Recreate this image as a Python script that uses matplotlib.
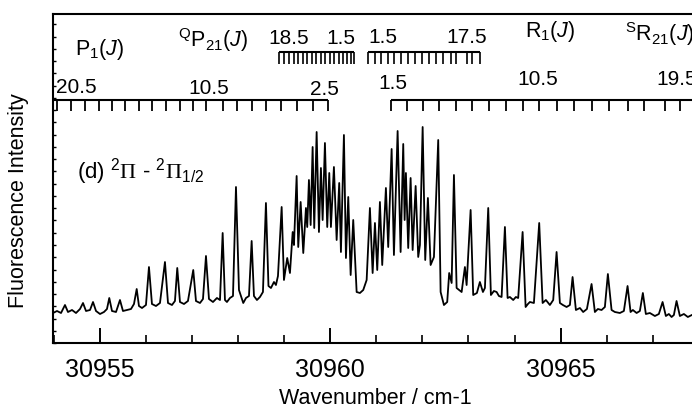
import matplotlib
matplotlib.use('Agg')
import matplotlib.pyplot as plt
from matplotlib.ticker import MultipleLocator

plt.rcParams['font.family'] = ['Liberation Sans', 'DejaVu Sans']
plt.rcParams['mathtext.fontset'] = 'custom'
plt.rcParams['mathtext.rm'] = 'Liberation Sans'
plt.rcParams['mathtext.it'] = 'Liberation Sans:italic'
plt.rcParams['mathtext.sf'] = 'Liberation Serif'

# ---------------- data ----------------
wavenumber = [
    30953.987, 30954.074, 30954.161, 30954.247, 30954.312, 30954.399, 30954.486, 30954.573, 30954.638, 30954.703,
    30954.790, 30954.855, 30954.920, 30955.007, 30955.093, 30955.158, 30955.208, 30955.267, 30955.354, 30955.440,
    30955.505, 30955.592, 30955.679, 30955.744, 30955.803, 30955.852, 30955.918, 30956.004, 30956.069, 30956.134,
    30956.221, 30956.308, 30956.416, 30956.482, 30956.568, 30956.633, 30956.683, 30956.742, 30956.829, 30956.915,
    30957.030, 30957.089, 30957.176, 30957.241, 30957.306, 30957.371, 30957.458, 30957.544, 30957.610, 30957.668,
    30957.718, 30957.761, 30957.826, 30957.892, 30957.957, 30958.022, 30958.065, 30958.115, 30958.174, 30958.239,
    30958.297, 30958.347, 30958.412, 30958.477, 30958.542, 30958.607, 30958.662, 30958.716, 30958.781, 30958.824,
    30958.868, 30958.948, 30958.998, 30959.069, 30959.128, 30959.187, 30959.215, 30959.273, 30959.308, 30959.360,
    30959.417, 30959.475, 30959.503, 30959.540, 30959.577, 30959.620, 30959.655, 30959.707, 30959.757, 30959.800,
    30959.837, 30959.887, 30959.937, 30959.981, 30960.017, 30960.082, 30960.141, 30960.197, 30960.234, 30960.299,
    30960.343, 30960.393, 30960.445, 30960.501, 30960.575, 30960.646, 30960.718, 30960.792, 30960.863, 30960.922,
    30960.972, 30961.022, 30961.080, 30961.130, 30961.210, 30961.260, 30961.334, 30961.384, 30961.464, 30961.529,
    30961.586, 30961.616, 30961.644, 30961.694, 30961.746, 30961.790, 30961.855, 30961.911, 30961.948, 30962.007,
    30962.063, 30962.121, 30962.180, 30962.252, 30962.345, 30962.397, 30962.469, 30962.540, 30962.583, 30962.636,
    30962.686, 30962.744, 30962.853, 30962.924, 30962.961, 30963.048, 30963.104, 30963.184, 30963.249, 30963.315,
    30963.358, 30963.430, 30963.488, 30963.553, 30963.612, 30963.662, 30963.720, 30963.792, 30963.850, 30963.900,
    30963.972, 30964.030, 30964.080, 30964.176, 30964.241, 30964.291, 30964.334, 30964.421, 30964.536, 30964.610,
    30964.681, 30964.768, 30964.840, 30964.913, 30964.985, 30965.050, 30965.130, 30965.202, 30965.260, 30965.332,
    30965.419, 30965.490, 30965.571, 30965.672, 30965.744, 30965.809, 30965.889, 30965.961, 30966.026, 30966.106,
    30966.178, 30966.286, 30966.373, 30966.453, 30966.518, 30966.568, 30966.649, 30966.720, 30966.785, 30966.850,
    30966.937, 30967.046, 30967.132, 30967.213, 30967.284, 30967.349, 30967.408, 30967.458, 30967.516, 30967.588,
    30967.675, 30967.761, 30967.848,
]
intensity = [
    30, 32, 30, 38, 31, 33, 30, 34, 40, 32,
    33, 41, 32, 29, 31, 34, 45, 32, 31, 43,
    32, 33, 34, 39, 54, 37, 35, 38, 76, 39,
    37, 40, 81, 40, 38, 42, 75, 41, 39, 42,
    73, 42, 40, 44, 87, 44, 41, 45, 43, 110,
    43, 41, 45, 47, 156, 53, 47, 40, 45, 47,
    102, 47, 43, 46, 51, 140, 57, 55, 61, 58,
    67, 136, 63, 85, 70, 111, 98, 167, 96, 141,
    90, 135, 116, 163, 118, 196, 115, 211, 111, 175,
    123, 200, 116, 170, 116, 176, 103, 160, 91, 208,
    85, 146, 68, 123, 51, 50, 53, 63, 135, 70,
    120, 73, 141, 78, 155, 96, 194, 88, 212, 91,
    199, 123, 170, 95, 165, 93, 157, 86, 98, 216,
    83, 145, 78, 86, 203, 51, 38, 41, 70, 60,
    168, 55, 51, 76, 58, 133, 48, 50, 61, 51,
    55, 135, 48, 52, 51, 47, 46, 116, 45, 46,
    43, 46, 45, 111, 36, 39, 41, 40, 120, 40,
    43, 38, 43, 91, 40, 38, 36, 38, 66, 33,
    35, 31, 34, 59, 31, 34, 33, 36, 69, 33,
    31, 30, 32, 57, 31, 33, 30, 32, 50, 29,
    30, 27, 29, 41, 27, 29, 26, 28, 42, 27,
    29, 26, 28,
]

# rotational line positions (cm-1)
p1_lines = [30954.074, 30954.388, 30954.675, 30954.978, 30955.273, 30955.549, 30955.857,
            30956.141, 30956.438, 30956.735, 30957.020, 30957.317, 30957.679, 30957.983,
            30958.299, 30958.614, 30958.939, 30959.275, 30959.618, 30959.944]          # J = 21.5 ... 2.5
r1_lines = [30961.312, 30961.659, 30962.007, 30962.360, 30962.722, 30963.082, 30963.445,
            30963.807, 30964.182, 30964.529, 30964.920, 30965.289, 30965.679, 30966.041,
            30966.460, 30966.807, 30967.262, 30967.588, 30967.957]                      # J = 1.5 ... 19.5
qp21_lines = [30958.889, 30958.998, 30959.106, 30959.215, 30959.312, 30959.410, 30959.508,
              30959.605, 30959.703, 30959.800, 30959.898, 30959.996, 30960.093, 30960.191,
              30960.289, 30960.375, 30960.451, 30960.527]                               # J = 18.5 ... 1.5
sr21_lines = [30960.831, 30960.972, 30961.113, 30961.254, 30961.395, 30961.536, 30961.688,
              30961.839, 30961.991, 30962.143, 30962.306, 30962.447, 30962.620, 30962.740,
              30962.967, 30963.076, 30963.249]                                          # J = 1.5 ... 17.5

p1_labels = ['20.5', '10.5', '2.5']
p1_label_pos = [30954.497, 30957.360, 30959.887]
r1_labels = ['1.5', '10.5', '19.5']
r1_label_pos = [30961.362, 30964.507, 30967.523]

x_range = (30953.987, 30967.99)

# ---------------- figure ----------------
fig = plt.figure(figsize=(6.92, 4.15), dpi=100)
ax = fig.add_axes([53 / 692, 72 / 415, 645.4 / 692, 329 / 415])

ax.plot(wavenumber, intensity, color='black', lw=1.3)
ax.set_xlim(*x_range)
ax.set_ylim(0, 329)

for s in ['left', 'bottom', 'top']:
    ax.spines[s].set_linewidth(1.5)
ax.spines['right'].set_visible(False)

ax.xaxis.set_major_locator(MultipleLocator(5))
ax.xaxis.set_minor_locator(MultipleLocator(1))
ax.xaxis.set_major_formatter(matplotlib.ticker.FormatStrFormatter('%d'))
ax.tick_params(axis='x', which='major', direction='in', length=10.8, width=1.4,
               labelsize=18, pad=11, top=False)
ax.tick_params(axis='x', which='minor', direction='in', length=5.8, width=1.2, top=False)
ax.yaxis.set_major_locator(MultipleLocator(12.25))
ax.tick_params(axis='y', which='major', direction='in', length=2.2, width=1.0,
               labelleft=False, right=False)

ax.set_xlabel('Wavenumber / cm-1', fontsize=15.5, labelpad=4)
fig.text(19 / 692, 1 - 201 / 415, 'Fluorescence Intensity', rotation=90,
         ha='center', va='center', fontsize=15.5)

tr = ax.get_xaxis_transform()

def frac(py):
    return (343 - py) / 329

# P1 / R1 ladders
yl, yt = frac(100), frac(111)
ax.plot([x_range[0], p1_lines[-1]], [yl, yl], transform=tr, color='black', lw=1.5,
        solid_capstyle='butt', clip_on=False)
ax.vlines(p1_lines, yt, yl, transform=tr, color='black', lw=1.3)
ax.plot([r1_lines[0], x_range[1]], [yl, yl], transform=tr, color='black', lw=1.5,
        solid_capstyle='butt', clip_on=False)
ax.vlines(r1_lines, yt, yl, transform=tr, color='black', lw=1.3)

# Q P21 / S R21 combs
yl2, yt2 = frac(52.5), frac(64)
ax.plot([qp21_lines[0], qp21_lines[-1]], [yl2, yl2], transform=tr, color='black', lw=1.5,
        solid_capstyle='butt')
ax.vlines(qp21_lines, yt2, yl2, transform=tr, color='black', lw=1.2)
ax.plot([sr21_lines[0], sr21_lines[-1]], [yl2, yl2], transform=tr, color='black', lw=1.5,
        solid_capstyle='butt')
ax.vlines(sr21_lines, yt2, yl2, transform=tr, color='black', lw=1.2)

fs = 15
for lab, x, py in zip(p1_labels, p1_label_pos, [93, 94, 95]):
    ax.text(x, frac(py), lab, transform=tr, ha='center', va='baseline', fontsize=fs)
for lab, x, py in zip(r1_labels, r1_label_pos, [89, 85, 85]):
    ax.text(x, frac(py), lab, transform=tr, ha='center', va='baseline', fontsize=fs)

ax.text(30958.656, frac(44), '18.5', transform=tr, ha='left', va='baseline', fontsize=fs)
ax.text(30960.538, frac(44), '1.5', transform=tr, ha='right', va='baseline', fontsize=fs)
ax.text(30960.825, frac(43.3), '1.5', transform=tr, ha='left', va='baseline', fontsize=fs)
ax.text(30963.403, frac(43.3), '17.5', transform=tr, ha='right', va='baseline', fontsize=fs)

ax.text(30954.464, frac(55), r'P$_1$($J$)', transform=tr, ha='left', va='baseline', fontsize=15.5)
ax.text(30956.702, frac(47), r'$^{\rm Q}$P$_{21}$($J$)', transform=tr, ha='left', va='baseline', fontsize=15.5)
ax.text(30964.226, frac(37), r'R$_1$($J$)', transform=tr, ha='left', va='baseline', fontsize=15.5)
ax.text(30966.397, frac(41), r'$^{\rm S}$R$_{21}$($J$)', transform=tr, ha='left', va='baseline', fontsize=15.5)

ax.text(30954.501, frac(178.3), r'(d) $^{2}\mathsf{\Pi}$ - $^{2}\mathsf{\Pi}_{1/2}$', transform=tr,
        ha='left', va='baseline', fontsize=16)

fig.savefig('out.png', dpi=100)
